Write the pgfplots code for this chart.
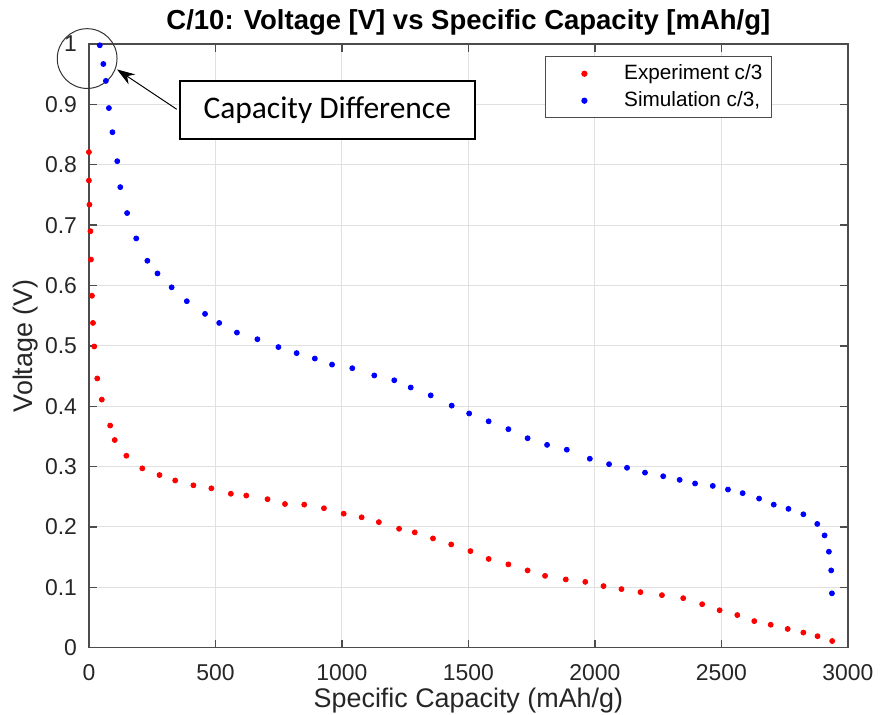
\documentclass[border=0pt]{standalone}
\usepackage{pgfplots}
\pgfplotsset{compat=1.18}
\usepackage{fontspec}
\setmainfont{Liberation Sans}
\newfontfamily\calib{Carlito}
\usetikzlibrary{arrows.meta}

\pgfplotstableread{
x y
0 0.821
0 0.774
2 0.734
6 0.690
8 0.643
12 0.583
16 0.538
21 0.499
33 0.446
51 0.411
84 0.368
102 0.344
148 0.318
211 0.297
279 0.286
341 0.277
413 0.269
484 0.264
561 0.255
622 0.252
706 0.246
775 0.238
851 0.237
929 0.231
1007 0.222
1078 0.216
1146 0.208
1226 0.197
1288 0.191
1360 0.181
1432 0.171
1508 0.160
1580 0.147
1658 0.138
1734 0.128
1803 0.119
1885 0.113
1962 0.109
2034 0.102
2105 0.097
2180 0.092
2265 0.087
2349 0.082
2424 0.072
2493 0.062
2563 0.054
2630 0.044
2695 0.038
2762 0.031
2824 0.025
2880 0.019
2938 0.011
}\experiment

\pgfplotstableread{
x y
43 0.998
57 0.967
67 0.939
79 0.894
93 0.854
112 0.806
124 0.763
151 0.720
187 0.678
231 0.641
271 0.620
327 0.597
387 0.574
459 0.553
515 0.538
585 0.522
666 0.511
749 0.498
821 0.488
893 0.479
961 0.469
1041 0.463
1128 0.451
1207 0.443
1272 0.431
1351 0.418
1434 0.401
1503 0.388
1580 0.375
1658 0.362
1734 0.347
1811 0.336
1889 0.328
1980 0.313
2056 0.304
2127 0.298
2198 0.290
2270 0.284
2335 0.278
2396 0.272
2466 0.268
2526 0.262
2584 0.256
2649 0.247
2707 0.237
2765 0.230
2824 0.221
2879 0.205
2908 0.186
2925 0.159
2934 0.128
2937 0.090
}\simulation

\begin{document}
\begin{tikzpicture}
\begin{axis}[
  width=381pt, height=303pt, scale only axis,
  xmin=0, xmax=3000, ymin=0, ymax=1,
  xtick={0,500,1000,1500,2000,2500,3000},
  ytick={0,0.1,0.2,0.3,0.4,0.5,0.6,0.7,0.8,0.9,1},
  grid=major,
  grid style={black!12, line width=0.5pt},
  axis line style={black!70, line width=0.7pt},
  tick style={black!70, line width=0.7pt},
  tick align=inside, major tick length=4pt,
  /pgf/number format/assume math mode=true,
  ticklabel style={font=\fontsize{11.5}{13}\selectfont, black!85},
  xticklabel style={/pgf/number format/1000 sep={}, yshift=-5pt},
  yticklabel style={/pgf/number format/fixed, /pgf/number format/precision=1, xshift=-2.5pt},
  xlabel={Specific Capacity (mAh/g)},
  ylabel={Voltage (V)},
  xlabel style={inner ysep=1pt, yshift=1.2pt},
  ylabel style={inner ysep=6.5pt},
  ylabel shift=-6.5pt,
  label style={font=\fontsize{13.5}{15}\selectfont, black!85},
  title={C/10: Voltage [V] vs Specific Capacity [mAh/g]},
  title style={font=\bfseries\fontsize{13.8}{15}\selectfont, inner ysep=5pt, yshift=-7pt},
  legend style={at={(0.900,0.980)}, anchor=north east, draw=black!70, line width=0.6pt,
    font=\fontsize{10.4}{12}\selectfont, inner xsep=0pt, inner ysep=2pt, row sep=0.5pt,
    column sep=0pt, nodes={inner xsep=1pt}},
  legend cell align=left,
  legend image code/.code={\path[draw=none,fill=none] (0pt,-2pt) rectangle (38.5pt,2pt);
    \draw[mark repeat=2,mark phase=2,#1] plot coordinates {(0pt,0pt) (19.5pt,0pt) (39pt,0pt)};},
  clip=false,
]
\addplot[only marks, mark=*, mark size=1.25pt, color=red] table[x=x,y=y] {\experiment};
\addlegendentry{Experiment c/3\kern3.5pt}
\addplot[only marks, mark=*, mark size=1.25pt, color=blue] table[x=x,y=y] {\simulation};
\addlegendentry{Simulation c/3,\kern3.5pt}

\draw[black!80, line width=0.5pt] (axis cs:-7,0.976) circle[radius=15pt];
\draw[black, line width=0.5pt, -{Stealth[length=9pt,width=6pt]}] (axis cs:347,0.892) -- (axis cs:111,0.958);
\node[draw=black, line width=1pt, fill=white, minimum width=148pt, minimum height=29pt, inner sep=0pt,
  font=\calib\fontsize{15.8}{18}\selectfont] at (axis cs:942,0.891) {Capacity Difference};
\end{axis}
\end{tikzpicture}
\end{document}
